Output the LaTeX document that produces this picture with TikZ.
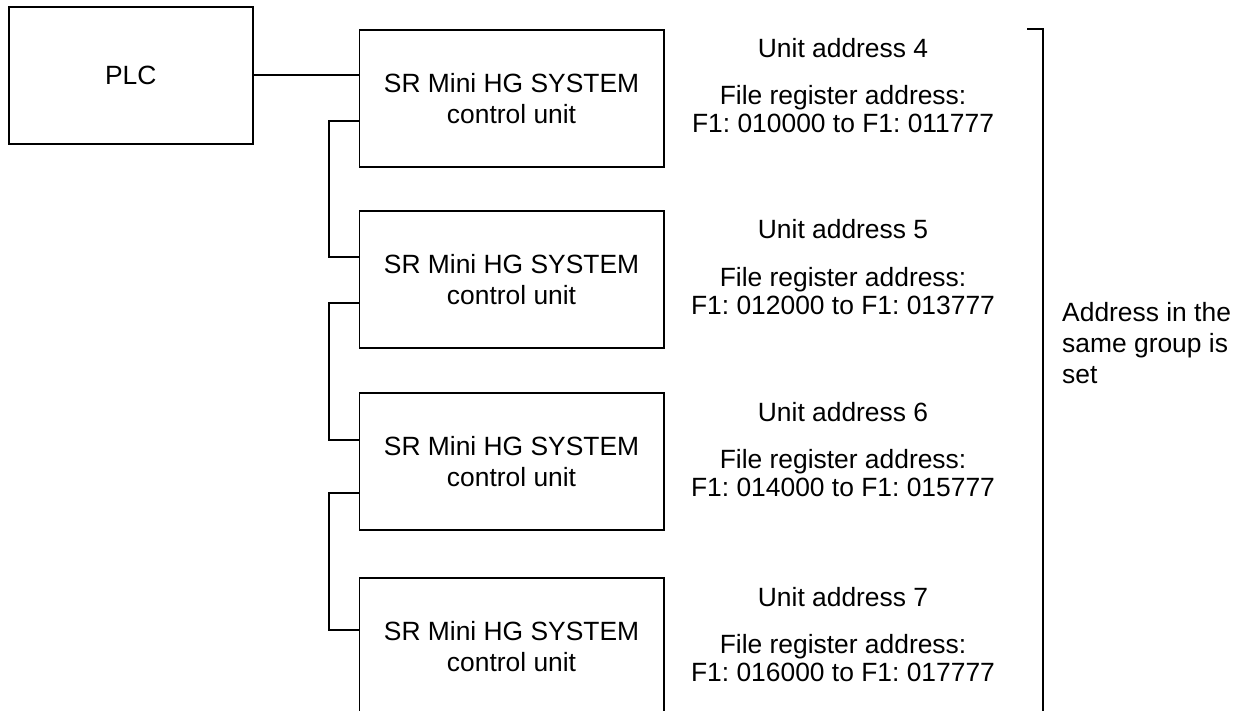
\documentclass[tikz,border=0pt]{standalone}
\usepackage{fontspec}
\setmainfont{Liberation Sans}
\usetikzlibrary{calc}
\frenchspacing
\begin{document}
\begin{tikzpicture}[x=1pt,y=-1pt,
  every node/.style={font=\fontsize{26.4}{31}\selectfont\frenchspacing, inner sep=0pt},
  box/.style={draw, line width=1.6pt, minimum width=304.5pt, minimum height=137pt, anchor=north west, align=center},
  wire/.style={line width=1.6pt},
  addr/.style={anchor=base}]
\useasboundingbox (0,0) rectangle (1246,711);
\node[draw, line width=1.6pt, minimum width=244pt, minimum height=137pt, anchor=north west] (plc) at (8,6) {PLC};
\foreach \i/\t/\n/\s/\e in {1/29/4/010000/011777, 2/210/5/012000/013777, 3/392/6/014000/015777, 4/577/7/016000/017777}{
  \node[box] (u\i) at (358.5,\t) {SR Mini HG SYSTEM\\control unit};
  \node[addr] (ua\i) at (843,\t+29) {Unit address \n};
  \node[addr] (fr\i) at (843,\t+76) {File register address:};
  \node[addr] (fa\i) at (843,\t+104) {F1: \s\ to F1: \e};
}
\draw[wire] (plc.east) -- (plc.east -| u1.west);
\draw[wire] ($(u1.north west)+(0,92)$) -- ++(-29.5,0) |- ($(u2.north west)+(0,47)$);
\draw[wire] ($(u2.north west)+(0,93)$) -- ++(-29.5,0) |- ($(u3.north west)+(0,48)$);
\draw[wire] ($(u3.north west)+(0,101)$) -- ++(-29.5,0) |- ($(u4.north west)+(0,53)$);
\coordinate (bt) at (1043,29);
\coordinate (bb) at (1043,720);
\draw[wire] ($(bt)+(-16,0)$) -- (bt) -- (bb);
\node[anchor=north west, align=left] (note) at (1062,302) {Address in the\\same group is\\set};
\end{tikzpicture}
\end{document}
